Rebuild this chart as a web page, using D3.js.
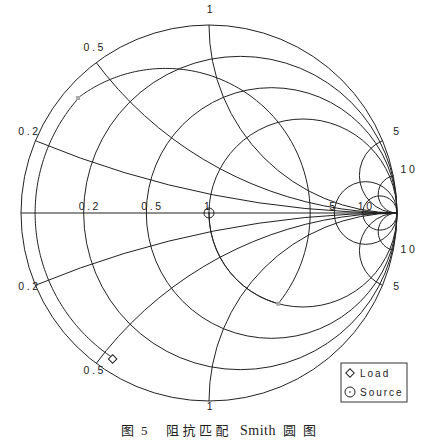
<!DOCTYPE html>
<html>
<head>
<meta charset="utf-8">
<script src="https://cdn.jsdelivr.net/npm/d3@7"></script>
<style>
body { margin: 0; background: #fff; }
text { font-family: Arial, "Liberation Sans", sans-serif; fill: #222; }
</style>
</head>
<body>
<script>
// Smith chart grid (normalized values)
var resistances = [0.2, 0.5, 1, 5, 10]
var reactances = [0.2, 0.5, 1, 5, 10]
var rLabels = ["0.2", "0.5", "1", "5", "10"]
var xLabels = ["0.2", "0.5", "1", "5", "10"]

// matching path, normalized impedances [r, x]: load -> line -> shunt -> series -> source
var pathPoints = [[0.05, -0.53], [0.043, 0.376], [1, -1.528], [1, 0]]
var pathKinds = ["line", "shunt", "series"]

var legendNames = ["Load", "Source"]
var captionParts = ["图", "5", "阻抗匹配", "Smith", "圆图"]

var width = 433, height = 446
var cx = 209, cy = 213, R = 188

// reflection-coefficient plane -> pixels
var gx = d3.scaleLinear().domain([-1, 1]).range([cx - R, cx + R])
var gy = d3.scaleLinear().domain([-1, 1]).range([cy + R, cy - R])
var len = v => gx(v) - gx(0)

// z = r + jx  ->  gamma
function gamma(r, x) {
  var d = (r + 1) * (r + 1) + x * x
  return [(r * r + x * x - 1) / d, 2 * x / d]
}
function admit(z) {
  var d = z[0] * z[0] + z[1] * z[1]
  return [z[0] / d, -z[1] / d]
}

var svg = d3.select("body")
  .append("svg")
    .attr("width", width)
    .attr("height", height)

svg.append("clipPath").attr("id", "unit")
  .append("circle").attr("cx", gx(0)).attr("cy", gy(0)).attr("r", len(1))

var grid = svg.append("g")
    .attr("fill", "none")
    .attr("stroke", "#222")
    .attr("stroke-width", 1)

// outer circle and real axis
grid.append("circle").attr("cx", gx(0)).attr("cy", gy(0)).attr("r", len(1))
grid.append("line")
    .attr("x1", gx(-1)).attr("x2", gx(1))
    .attr("y1", gy(0)).attr("y2", gy(0))

// constant resistance circles
grid.selectAll(".rc")
  .data(resistances)
  .enter().append("circle")
    .attr("class", "rc")
    .attr("cx", r => gx(r / (1 + r)))
    .attr("cy", gy(0))
    .attr("r", r => len(1 / (1 + r)))

// constant reactance arcs (both signs), clipped to the chart
var xs = reactances.concat(reactances.map(v => -v))
grid.append("g").attr("clip-path", "url(#unit)")
  .selectAll("circle")
  .data(xs)
  .enter().append("circle")
    .attr("cx", gx(1))
    .attr("cy", x => gy(1 / x))
    .attr("r", x => len(1 / Math.abs(x)))

// resistance labels on the axis
svg.selectAll(".rl")
  .data(resistances)
  .enter().append("text")
    .attr("class", "rl")
    .attr("x", r => gx((r - 1) / (r + 1)) - 5)
    .attr("y", gy(0) - 3)
    .attr("font-size", "10.5px")
    .attr("letter-spacing", "2.6px")
    .text((r, i) => rLabels[i])

// reactance labels round the rim
xs.forEach(function(x, i) {
  var g = gamma(0, x)
  var px = gx(g[0]) + g[0] * 14, py = gy(g[1]) - g[1] * 14
  px += g[0] < -0.1 ? 7 : 2
  py -= 4
  if (Math.abs(g[0]) < 0.1 && g[1] < 0) py -= 5
  if (Math.abs(g[0]) < 0.1 && g[1] > 0) py += 2
  svg.append("text")
    .attr("x", px).attr("y", py + 3.5)
    .attr("text-anchor", "middle")
    .attr("font-size", "10.5px")
    .attr("letter-spacing", "2.6px")
    .text(xLabels[i % xLabels.length])
})

// matching path
var pts = []
pathKinds.forEach(function(kind, i) {
  var a = pathPoints[i], b = pathPoints[i + 1]
  var t = d3.range(0, 1.0001, 0.01)
  if (kind == "line") {
    var g0 = gamma(a[0], a[1]), g1 = gamma(b[0], b[1])
    var m = Math.hypot(g0[0], g0[1])
    var a0 = Math.atan2(g0[1], g0[0]), a1 = Math.atan2(g1[1], g1[0])
    while (a1 > a0) a1 -= 2 * Math.PI
    t.forEach(s => { var ang = a0 + (a1 - a0) * s; pts.push([m * Math.cos(ang), m * Math.sin(ang)]) })
  } else if (kind == "shunt") {
    var y0 = admit(a), y1 = admit(b)
    t.forEach(s => { var g = gamma(y0[0], y0[1] + (y1[1] - y0[1]) * s); pts.push([-g[0], -g[1]]) })
  } else {
    t.forEach(s => pts.push(gamma(a[0], a[1] + (b[1] - a[1]) * s)))
  }
})

svg.append("path")
    .attr("d", d3.line().x(d => gx(d[0])).y(d => gy(d[1]))(pts))
    .attr("fill", "none")
    .attr("stroke", "#222")
    .attr("stroke-width", 1)

// intermediate points
svg.selectAll(".mid")
  .data(pathPoints.slice(1, -1))
  .enter().append("rect")
    .attr("class", "mid")
    .attr("x", d => gx(gamma(d[0], d[1])[0]) - 2)
    .attr("y", d => gy(gamma(d[0], d[1])[1]) - 2)
    .attr("width", 4).attr("height", 4)
    .attr("fill", "#aaa")

var load = gamma(pathPoints[0][0], pathPoints[0][1])
var src = gamma(pathPoints[3][0], pathPoints[3][1])

function diamond(x, y) {
  svg.append("path")
    .attr("d", d3.symbol(d3.symbolSquare, 36)())
    .attr("transform", "translate(" + x + "," + y + ") rotate(45)")
    .attr("fill", "#fff").attr("stroke", "#222")
}
function ring(x, y) {
  svg.append("circle").attr("cx", x).attr("cy", y).attr("r", 5)
    .attr("fill", "none").attr("stroke", "#222")
  svg.append("circle").attr("cx", x).attr("cy", y).attr("r", 0.8).attr("fill", "#222")
}

diamond(gx(load[0]) + 1, gy(load[1]) + 2)
ring(gx(src[0]), gy(src[1]))

// legend
var lg = svg.append("g").attr("transform", "translate(341,363)")
lg.append("rect").attr("width", 66).attr("height", 39)
    .attr("fill", "#fff").attr("stroke", "#333")
diamond(350, 373)
ring(350, 392)
lg.selectAll("text")
  .data(legendNames)
  .enter().append("text")
    .attr("x", 19)
    .attr("y", (d, i) => 14 + i * 19)
    .attr("font-size", "10px")
    .attr("letter-spacing", "2px")
    .text(d => d)

// caption
var capX = [121, 141, 166, 240, 283]
var capSpacing = ["0px", "0px", "3.5px", "0.5px", "7px"]
var cap = svg.append("text")
    .attr("y", 435)
    .style("font-family", "'Liberation Serif', 'Noto Sans CJK SC', serif")
    .attr("font-size", "13px")
cap.selectAll("tspan")
  .data(captionParts)
  .enter().append("tspan")
    .attr("x", (d, i) => capX[i])
    .attr("letter-spacing", (d, i) => capSpacing[i])
    .attr("font-size", (d, i) => i == 3 ? "14px" : "13px")
    .text(d => d)
</script>
</body>
</html>
